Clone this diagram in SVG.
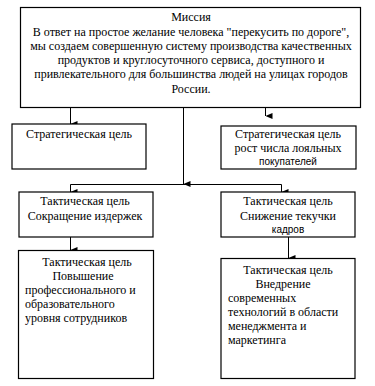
<svg xmlns="http://www.w3.org/2000/svg" width="375" height="386" viewBox="0 0 375 386">
<defs>
<marker id="ah" markerWidth="6" markerHeight="7" refX="3" refY="7" orient="auto-start-reverse" markerUnits="userSpaceOnUse" viewBox="0 0 6 7">
<path d="M0,0 L6,0 L3,7 Z" fill="#000"/>
</marker>
</defs>
<style>
.box{fill:#fff;stroke:#000;stroke-width:1.2}
.t{font-family:"Liberation Serif","Times New Roman",serif;font-size:12px;fill:#000}
.s{font-family:"Liberation Sans",Arial,sans-serif;font-size:10px;fill:#000}
.c{text-anchor:middle}
.ln{fill:none;stroke:#000;stroke-width:1}
</style>
<rect width="375" height="386" fill="#fff"/>
<g id="connectors">
<path class="ln" d="M70.5 108 V124" marker-end="url(#ah)"/>
<path class="ln" d="M265.5 108 V116" marker-end="url(#ah)"/>
<path class="ln" d="M183.5 108 V184" marker-end="url(#ah)"/>
<path class="ln" d="M70.5 184.5 H281.5"/>
<path class="ln" d="M70.5 184.5 V192" marker-end="url(#ah)"/>
<path class="ln" d="M281.5 184.5 V192" marker-end="url(#ah)"/>
<path class="ln" d="M70.5 237 V250" marker-end="url(#ah)"/>
<path class="ln" d="M288.5 237 V258" marker-end="url(#ah)"/>
</g>
<g id="mission">
<rect class="box" x="20.5" y="7.5" width="340" height="100"/>
<text class="t c" x="191" y="21">Миссия</text>
<text class="t c" x="191" y="36">В ответ на простое желание человека "перекусить по дороге",</text>
<text class="t c" x="191" y="50">мы создаем совершенную систему производства качественных</text>
<text class="t c" x="191" y="64">продуктов и круглосуточного сервиса, доступного и</text>
<text class="t c" x="191" y="78">привлекательного для большинства людей на улицах городов</text>
<text class="t c" x="191" y="93">России.</text>
</g>
<g id="strat1">
<rect class="box" x="12" y="124" width="134" height="45"/>
<text class="t c" x="79" y="138">Стратегическая цель</text>
</g>
<g id="strat2">
<rect class="box" x="221" y="126" width="135" height="43"/>
<text class="t c" x="288" y="138">Стратегическая цель</text>
<text class="t c" x="288" y="152">рост числа лояльных</text>
<text class="s c" x="288" y="165">покупателей</text>
</g>
<g id="tact1">
<rect class="box" x="19" y="192" width="134" height="45"/>
<text class="t c" x="85" y="205">Тактическая цель</text>
<text class="t c" x="85" y="220">Сокращение издержек</text>
</g>
<g id="tact2">
<rect class="box" x="221" y="192" width="134" height="45"/>
<text class="t c" x="288" y="205">Тактическая цель</text>
<text class="t c" x="288" y="220">Снижение текучки</text>
<text class="s c" x="288" y="233">кадров</text>
</g>
<g id="tact3">
<rect class="box" x="18.5" y="250.5" width="135" height="128"/>
<text class="t c" x="87" y="266">Тактическая цель</text>
<text class="t c" x="83" y="280">Повышение</text>
<text class="t" x="25" y="294">профессионального и</text>
<text class="t" x="25" y="308">образовательного</text>
<text class="t" x="25" y="322">уровня сотрудников</text>
</g>
<g id="tact4">
<rect class="box" x="221" y="258.5" width="134" height="120"/>
<text class="t c" x="288" y="274">Тактическая цель</text>
<text class="t c" x="283" y="288">Внедрение</text>
<text class="t" x="228" y="302">современных</text>
<text class="t" x="228" y="316">технологий в области</text>
<text class="t" x="228" y="330">менеджмента и</text>
<text class="t" x="228" y="344">маркетинга</text>
</g>
</svg>
